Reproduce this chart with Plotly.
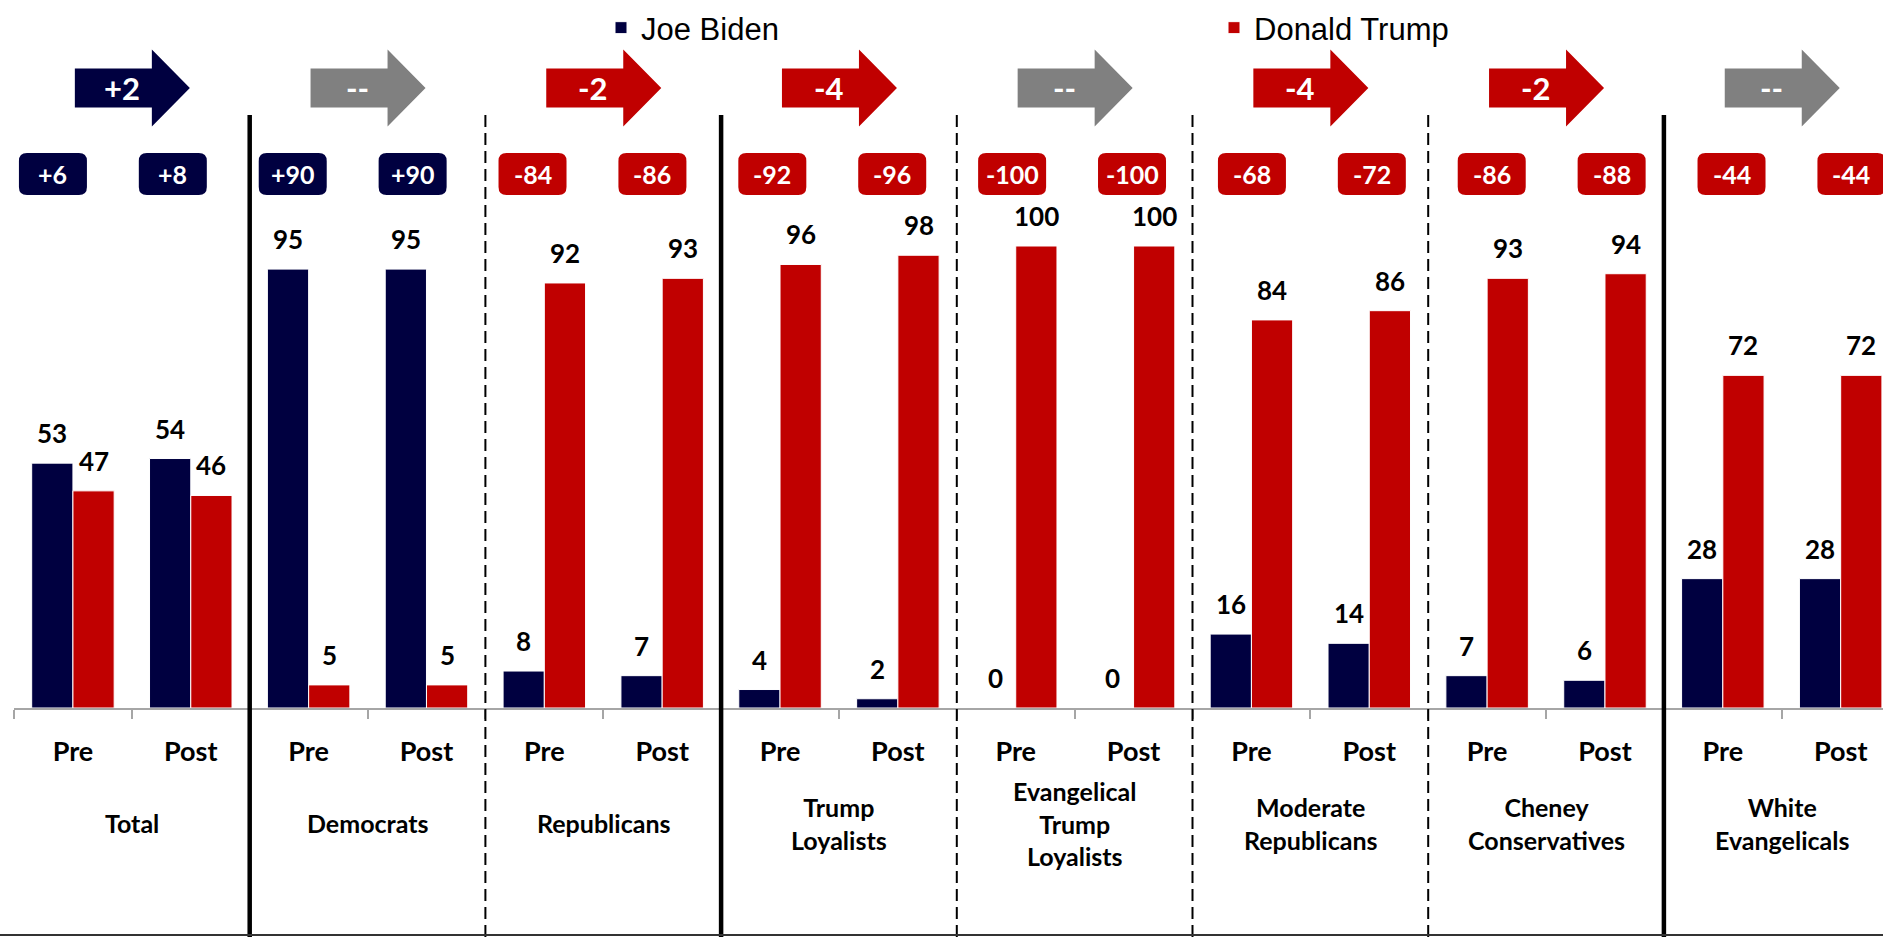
import plotly.graph_objects as go

# groups and values
groups = ["Total", "Democrats", "Republicans", "Trump<br>Loyalists",
          "Evangelical<br>Trump<br>Loyalists", "Moderate<br>Republicans",
          "Cheney<br>Conservatives", "White<br>Evangelicals"]
periods = ["Pre", "Post"]

biden_pre = [53, 95, 8, 4, 0, 16, 7, 28]
biden_post = [54, 95, 7, 2, 0, 14, 6, 28]
trump_pre = [47, 5, 92, 96, 100, 84, 93, 72]
trump_post = [46, 5, 93, 98, 100, 86, 94, 72]

net_pre = [6, 90, -84, -92, -100, -68, -86, -44]
net_post = [8, 90, -86, -96, -100, -72, -88, -44]
net_change = [2, 0, -2, -4, 0, -4, -2, 0]

# separator style after each group (last group has none)
separators = ["solid", "dash", "solid", "dash", "dash", "dash", "solid"]

NAVY = "#000040"
RED = "#C00000"
GRAY = "#808080"

W, H = 1883, 937
AXIS_Y = 708
LEFT = 14
PLOT_H = AXIS_Y
PLOT_W = W - LEFT
PX_PER_UNIT = 4.62
SLOT_PX = 117.85
BARGAP = 0.3


def py(pix):
    # pixel from top of figure -> paper y
    return (AXIS_Y - pix) / PLOT_H


def px(pix):
    # pixel from left of figure -> paper x
    return (pix - LEFT) / PLOT_W


# flatten to one slot per Pre/Post column
x = []
biden = []
trump = []
ticktext = []
nets = []
for g in range(len(groups)):
    x += [2 * g, 2 * g + 1]
    biden += [biden_pre[g], biden_post[g]]
    trump += [trump_pre[g], trump_post[g]]
    nets += [net_pre[g], net_post[g]]
    ticktext += periods

fig = go.Figure()
fig.add_trace(go.Bar(x=x, y=biden, name="Joe Biden", marker_color=NAVY,
                     marker_line=dict(color="white", width=1)))
fig.add_trace(go.Bar(x=x, y=trump, name="Donald Trump", marker_color=RED,
                     marker_line=dict(color="white", width=1)))

label_font = dict(family="Lato", size=26, color="black", weight="bold")
half = (1 - BARGAP) / 4
for i, xi in enumerate(x):
    for val, off in ((biden[i], -half), (trump[i], half)):
        fig.add_annotation(x=xi + off, y=val, text=str(val), showarrow=False,
                           yanchor="middle", yshift=30, font=label_font)

# group labels under the Pre/Post labels
for g, name in enumerate(groups):
    fig.add_annotation(x=2 * g + 0.5, y=py(823), yref="paper", text=name,
                       showarrow=False, yanchor="middle",
                       font=dict(family="Lato", size=25, color="black", weight="bold"))

# separators between groups
for g, style in enumerate(separators):
    xs = 2 * g + 1.5
    if style == "solid":
        line = dict(color="black", width=4.5)
    else:
        line = dict(color="black", width=2, dash="12px,6px")
    fig.add_shape(type="line", xref="x", yref="paper", x0=xs, x1=xs,
                  y0=py(115), y1=py(H), line=line)

# bottom border line
fig.add_shape(type="line", xref="paper", yref="paper", x0=px(0), x1=1,
              y0=py(935), y1=py(935), line=dict(color="#333333", width=2))

# net margin pills
pw, ph, r = 34, 21, 8
for i, xi in enumerate(x):
    dx = -20 + 2.05 * i
    color = NAVY if nets[i] > 0 else RED
    path = (f"M{dx - pw + r},{ph} L{dx + pw - r},{ph} Q{dx + pw},{ph} {dx + pw},{ph - r} "
            f"L{dx + pw},{-ph + r} Q{dx + pw},{-ph} {dx + pw - r},{-ph} "
            f"L{dx - pw + r},{-ph} Q{dx - pw},{-ph} {dx - pw},{-ph + r} "
            f"L{dx - pw},{ph - r} Q{dx - pw},{ph} {dx - pw + r},{ph} Z")
    fig.add_shape(type="path", xref="x", yref="paper", xsizemode="pixel",
                  ysizemode="pixel", xanchor=xi, yanchor=py(174), path=path,
                  fillcolor=color, line=dict(width=0))
    txt = f"+{nets[i]}" if nets[i] > 0 else str(nets[i])
    fig.add_annotation(x=xi, y=py(174), yref="paper", xshift=dx, text=txt,
                       showarrow=False, yanchor="middle",
                       font=dict(family="Lato", size=25, color="white", weight="bold"))

# change arrows
arrow = "M-57,19.5 L20,19.5 L20,38.5 L58,0 L20,-38.5 L20,-19.5 L-57,-19.5 Z"
for g, ch in enumerate(net_change):
    color = NAVY if ch > 0 else (RED if ch < 0 else GRAY)
    xc = 2 * g + 0.5
    fig.add_shape(type="path", xref="x", yref="paper", xsizemode="pixel",
                  ysizemode="pixel", xanchor=xc, yanchor=py(88), path=arrow,
                  fillcolor=color, line=dict(width=0))
    txt = "--" if ch == 0 else (f"+{ch}" if ch > 0 else str(ch))
    fig.add_annotation(x=xc, y=py(88), yref="paper", xshift=-10, text=txt,
                       showarrow=False, yanchor="middle",
                       font=dict(family="Lato", size=31, color="white", weight="bold"))

fig.update_layout(
    width=W, height=H,
    margin=dict(l=LEFT, r=0, t=0, b=H - AXIS_Y, pad=0, autoexpand=False),
    paper_bgcolor="white", plot_bgcolor="white",
    barmode="group", bargap=BARGAP, bargroupgap=0,
    showlegend=True,
    legend=dict(orientation="h", x=px(601), xanchor="left",
                y=py(28), yanchor="middle", entrywidth=568, entrywidthmode="pixels",
                font=dict(family="Liberation Sans", size=31, color="black"),
                bgcolor="rgba(0,0,0,0)"),
    xaxis=dict(range=[-0.5, -0.5 + PLOT_W / SLOT_PX], tickmode="array", tickvals=x,
               ticktext=ticktext, ticks="", showgrid=False, zeroline=False,
               showline=True, linecolor="#A6A6A6", linewidth=1.5, ticklabelstandoff=19,
               tickfont=dict(family="Lato", size=27, color="black", weight="bold"),
               minor=dict(tickmode="array", tickvals=[v - 0.5 for v in x] + [15.5],
                          ticks="outside", ticklen=9, tickcolor="#A6A6A6",
                          tickwidth=1.5, showgrid=False)),
    yaxis=dict(range=[0, PLOT_H / PX_PER_UNIT], visible=False, showgrid=False),
)

# drop the default page margin so the figure sits at the window's corner
fig.write_html("out.html", config={"displayModeBar": False},
               post_script="document.body.style.margin='0';")
